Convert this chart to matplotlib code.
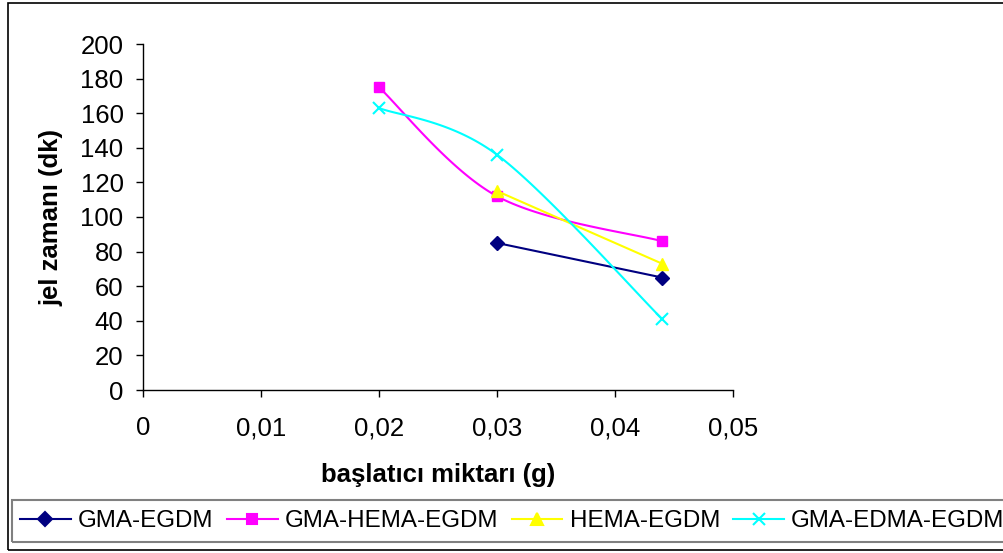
import numpy as np
import matplotlib
matplotlib.use("Agg")
import matplotlib.pyplot as plt
from matplotlib.patches import Rectangle
from matplotlib.lines import Line2D

plt.rcParams['font.family'] = ['Liberation Sans', 'DejaVu Sans']

# data
x_gma = [0.03, 0.044]
y_gma = [85, 65]
x_ghe = [0.02, 0.03, 0.044]
y_ghe = [175, 112, 86]
x_hema = [0.03, 0.044]
y_hema = [115, 73]
x_gedma = [0.02, 0.03, 0.044]
y_gedma = [163, 136, 41]

names = ['GMA-EGDM', 'GMA-HEMA-EGDM', 'HEMA-EGDM', 'GMA-EDMA-EGDM']
colors = ['#000080', '#FF00FF', '#FFFF00', '#00FFFF']
markers = [('D', 7), ('s', 7.5), ('^', 9), ('x', 9)]


def smooth(xs, ys, n=40):
    # Excel-like smoothed line (Catmull-Rom as cubic bezier)
    p = np.column_stack([xs, ys]).astype(float)
    out = [p[0]]
    for i in range(len(p) - 1):
        p0 = p[i - 1] if i > 0 else p[i]
        p1, p2 = p[i], p[i + 1]
        p3 = p[i + 2] if i + 2 < len(p) else p[i + 1]
        c1 = p1 + (p2 - p0) / 6
        c2 = p2 - (p3 - p1) / 6
        t = np.linspace(0, 1, n)[1:, None]
        seg = ((1 - t) ** 3) * p1 + 3 * ((1 - t) ** 2) * t * c1 + 3 * (1 - t) * t ** 2 * c2 + t ** 3 * p2
        out.extend(seg)
    out = np.array(out)
    return out[:, 0], out[:, 1]


fig = plt.figure(figsize=(10.04, 5.53), dpi=100)
ax = fig.add_axes([143 / 1004, 1 - 390 / 553, 590 / 1004, 346 / 553])

ax.plot(x_gma, y_gma, color=colors[0], lw=1.5, marker='D', ms=7, mec=colors[0])

sx, sy = smooth(x_ghe, y_ghe)
ax.plot(sx, sy, color=colors[1], lw=1.5)
ax.plot(x_ghe, y_ghe, ls='none', marker='s', ms=7.5, color=colors[1])

ax.plot(x_hema, y_hema, color=colors[2], lw=1.5, marker='^', ms=9)

sx, sy = smooth(x_gedma, y_gedma)
ax.plot(sx, sy, color=colors[3], lw=1.5)
ax.plot(x_gedma, y_gedma, ls='none', marker='x', ms=9, mew=1.5, color=colors[3])

ax.set_xlim(0, 0.05)
ax.set_ylim(0, 200)
ax.set_xticks(np.arange(0, 0.051, 0.01))
ax.set_xticklabels(['0', '0,01', '0,02', '0,03', '0,04', '0,05'])
ax.set_yticks(np.arange(0, 201, 20))
for s in ['top', 'right']:
    ax.spines[s].set_visible(False)
ax.spines['left'].set_linewidth(1)
ax.spines['bottom'].set_linewidth(1)
ax.tick_params(length=5, width=1, labelsize=18.5, pad=9)
ax.tick_params(axis='x', pad=14)

ax.set_xlabel('başlatıcı miktarı (g)', fontsize=18.5, fontweight='bold', labelpad=16)
ax.set_ylabel('jel zamanı (dk)', fontsize=18.5, fontweight='bold', labelpad=12)

# legend
handles = []
for c, (m, s), n in zip(colors, markers, names):
    handles.append(Line2D([], [], color=c, lw=1.5, marker=m, ms=s, mew=1.5, label=n))
leg = fig.legend(handles=handles, loc='center left', ncol=4, bbox_to_anchor=(20 / 1004, 1 - 521 / 553),
                 fontsize=17.4, frameon=False,
                 handlelength=2.1, handletextpad=0.3, columnspacing=0.55, borderpad=0.0,
                 borderaxespad=0)

fig.patches.append(Rectangle((12 / 1004, 1 - 542 / 553), 1000 / 1004, 42 / 553, transform=fig.transFigure,
                             fill=False, edgecolor='#808080', lw=1.5))
fig.patches.append(Rectangle((8 / 1004, 1 - 550 / 553), 1000 / 1004, 547 / 553, transform=fig.transFigure,
                             fill=False, edgecolor='black', lw=1.2))

fig.savefig('out.png', dpi=100)
